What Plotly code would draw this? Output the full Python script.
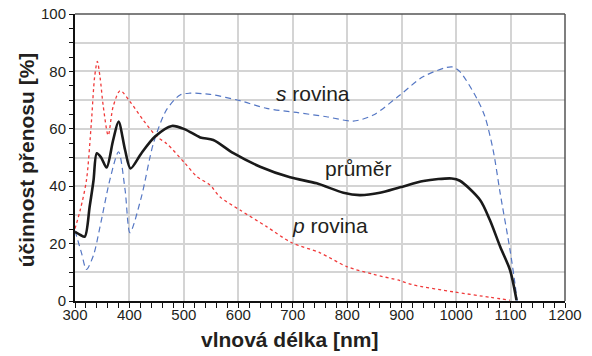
import plotly.graph_objects as go

# Wavelength grid (nm) and transmission efficiency (%) per curve
prumer_nm = [300, 310, 318, 327, 334, 340, 348, 358, 370, 380, 392, 402, 422, 447, 478, 502,
             530, 554, 591, 640, 695, 744, 793, 823, 860, 897, 940, 992, 1007, 1044, 1062,
             1081, 1099, 1111]
prumer_val = [24.1, 23.0, 22.4, 33.0, 42.0, 51.5, 50.0, 46.5, 56.0, 62.5, 52.6, 46.2, 51.5,
              57.3, 61.0, 59.8, 57.0, 56.1, 51.5, 46.8, 43.1, 41.0, 37.7, 36.9, 37.7, 39.6,
              41.8, 42.7, 41.9, 35.2, 28.2, 18.9, 10.8, 0.3]

s_nm = [300, 312, 321, 334, 346, 364, 380, 392, 401, 422, 444, 468, 493, 511, 548, 603, 652,
        707, 762, 811, 848, 897, 940, 992, 1007, 1038, 1053, 1068, 1081, 1099, 1108, 1112]
s_val = [24.5, 16.7, 11.0, 16.0, 25.9, 42.2, 52.0, 38.7, 23.8, 36.3, 54.9, 66.6, 71.8, 72.4,
         72.0, 69.8, 67.1, 65.7, 64.2, 62.7, 64.8, 71.8, 78.2, 81.6, 79.9, 70.6, 64.2, 52.6,
         37.5, 17.8, 6.2, 0.0]

p_nm = [300, 310, 321, 330, 336, 341, 346, 352, 361, 370, 383, 401, 425, 450, 468, 502, 524,
        548, 566, 603, 652, 698, 750, 799, 848, 897, 921, 995, 1062, 1099]
p_val = [25.2, 32.0, 42.0, 62.0, 78.0, 83.5, 78.0, 67.7, 57.7, 67.7, 73.3, 69.5, 63.1, 57.3,
         54.9, 48.0, 43.3, 40.4, 36.3, 31.7, 25.9, 20.3, 16.8, 12.0, 9.3, 7.1, 5.6, 3.2, 1.3, 0.3]

y_tickvals = list(range(0, 101, 10))
y_ticktext = [str(v) if v % 20 == 0 else "" for v in y_tickvals]

FONT = "Liberation Sans, Arial, sans-serif"
TXT = "#231f20"

fig = go.Figure()

fig.add_trace(go.Scatter(
    x=p_nm, y=p_val, mode="lines",
    line=dict(color="#f03a3a", width=1.3, dash="dot", shape="spline", smoothing=0.8),
    hoverinfo="skip", showlegend=False))
fig.add_trace(go.Scatter(
    x=s_nm, y=s_val, mode="lines",
    line=dict(color="#5577c4", width=1.2, dash="6px,4px", shape="spline", smoothing=0.8),
    hoverinfo="skip", showlegend=False))
fig.add_trace(go.Scatter(
    x=prumer_nm, y=prumer_val, mode="lines",
    line=dict(color="#1a1a1a", width=2.6, shape="spline", smoothing=0.8),
    hoverinfo="skip", showlegend=False))

# Curve labels
labels = [
    (737, 72.4, "<i>s</i> rovina"),
    (820, 46.0, "průměr"),
    (768, 26.2, "<i>p</i> rovina"),
]
for lx, ly, lt in labels:
    fig.add_annotation(x=lx, y=ly, text=lt, showarrow=False, xanchor="center",
                       yanchor="middle", font=dict(family=FONT, size=21, color=TXT))

# Axis titles
fig.add_annotation(xref="paper", yref="paper", x=0.437, y=-0.135, yanchor="middle",
                   text="<b>vlnová délka [nm]</b>", showarrow=False,
                   font=dict(family=FONT, size=21, color=TXT))
fig.add_annotation(xref="paper", yref="paper", x=-0.1, y=0.49, xanchor="center",
                   yanchor="middle", textangle=-90,
                   text="<b>účinnost přenosu [%]</b>", showarrow=False,
                   font=dict(family=FONT, size=21, color=TXT))

# Top and right frame
fig.add_shape(type="line", xref="paper", yref="paper", x0=0, x1=1, y0=1, y1=1,
              line=dict(color="#555555", width=1.5))
fig.add_shape(type="line", xref="paper", yref="paper", x0=1, x1=1, y0=0, y1=1,
              line=dict(color="#555555", width=1.5))

fig.update_xaxes(
    range=[300, 1200], dtick=100, tick0=0, automargin=False,
    showgrid=True, gridcolor="#d4d4d4", gridwidth=1.5, zeroline=False,
    showline=True, linecolor="#111111", linewidth=2,
    ticks="outside", ticklen=5, tickwidth=1, tickcolor="#111111",
    ticklabelstandoff=-6,
    minor=dict(dtick=20, tick0=0, ticks="outside", ticklen=5, tickcolor="#111111",
               showgrid=False),
    tickfont=dict(family=FONT, size=15, color=TXT),
)
fig.update_yaxes(
    range=[0, 100], tickmode="array", tickvals=y_tickvals, ticktext=y_ticktext,
    automargin=False,
    showgrid=True, gridcolor="#d4d4d4", gridwidth=1.5, zeroline=False,
    showline=True, linecolor="#111111", linewidth=2,
    ticks="outside", ticklen=4, tickwidth=1, tickcolor="#111111",
    minor=dict(tickvals=list(range(5, 100, 10)), ticks="outside", ticklen=4,
               tickcolor="#111111", showgrid=False),
    tickfont=dict(family=FONT, size=15, color=TXT),
)

fig.update_layout(
    width=592, height=356, autosize=False,
    margin=dict(l=75, r=27, t=14, b=55),
    paper_bgcolor="white", plot_bgcolor="white",
    font=dict(family=FONT, color=TXT),
)

fig.write_html("out.html")
